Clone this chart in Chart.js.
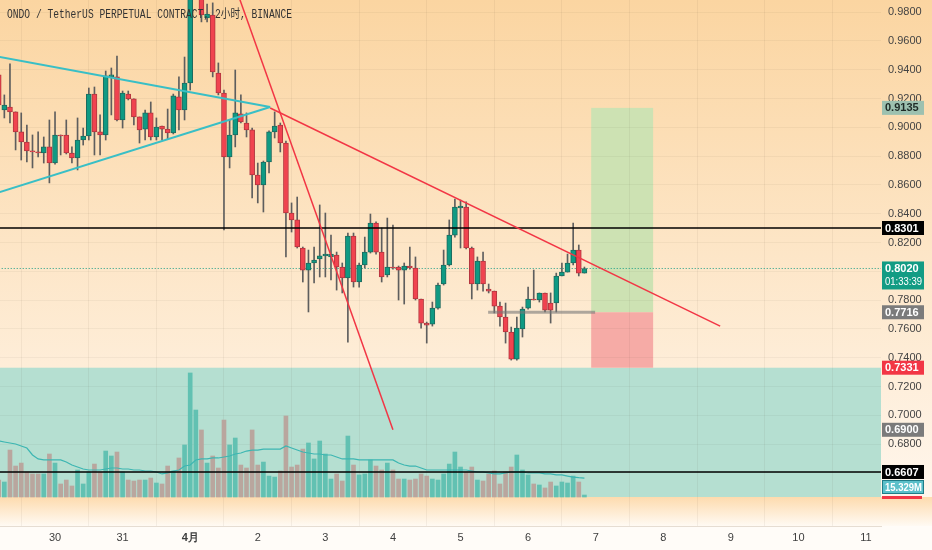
<!DOCTYPE html>
<html>
<head>
<meta charset="utf-8">
<script src="https://cdn.jsdelivr.net/npm/chart.js@4.4.1/dist/chart.umd.min.js"></script>
<style>
  html, body { margin: 0; padding: 0; background: #fffcf8; }
  canvas { display: block; }
</style>
</head>
<body>
<canvas id="ondo-chart" width="932" height="550"></canvas>
<script>
// ================== data (2h candles, index 0 = 29 Mar 22:00) ======================
const opens = [
  0.9364, 0.9120, 0.9141, 0.9107, 0.8968, 0.8898, 0.8836, 0.8829, 0.8822, 0.8864,
  0.8752, 0.8947, 0.8947, 0.8822, 0.8787, 0.8912, 0.8940, 0.9231, 0.8968, 0.8947,
  0.9350, 0.9350, 0.9051, 0.9231, 0.9197, 0.9072, 0.8988, 0.9100, 0.8933, 0.9009,
  0.8988, 0.8961, 0.9211, 0.9120, 0.9308, 0.9960, 1.0060, 0.9759, 0.9780, 0.9377,
  0.9238, 0.8794, 0.8947, 0.9093, 0.9030, 0.8982, 0.8669, 0.8600, 0.8759, 0.8968,
  0.9016, 0.8891, 0.8405, 0.8357, 0.8162, 0.8009, 0.8058, 0.8086, 0.8107, 0.8100,
  0.8113, 0.8030, 0.7954, 0.8245, 0.7926, 0.8044, 0.8134, 0.8336, 0.8134, 0.7975,
  0.8030, 0.8030, 0.8009, 0.8037, 0.8023, 0.7808, 0.7641, 0.7634, 0.7745, 0.7912,
  0.8044, 0.8252, 0.8440, 0.8447, 0.8162, 0.7912, 0.8072, 0.7877, 0.7863, 0.7759,
  0.7683, 0.7579, 0.7391, 0.7600, 0.7745, 0.7808, 0.7801, 0.7850, 0.7780, 0.7780,
  0.7968, 0.7995, 0.8058, 0.8148, 0.7988,
];
const highs = [
  0.9384, 0.9225, 0.9440, 0.9107, 0.9100, 0.9016, 0.8947, 0.8968, 0.8933, 0.9051,
  0.9107, 0.8947, 0.9051, 0.8864, 0.9065, 0.8995, 0.9273, 0.9280, 0.9086, 0.9391,
  0.9412, 0.9495, 0.9252, 0.9252, 0.9197, 0.9072, 0.9120, 0.9176, 0.9065, 0.9009,
  0.9127, 0.9231, 0.9350, 0.9488, 1.0030, 1.0200, 1.0110, 0.9856, 0.9864, 0.9447,
  0.9259, 0.9051, 0.9398, 0.9225, 0.9100, 0.8995, 0.8752, 0.8766, 0.8975, 0.9107,
  0.9030, 0.8905, 0.8475, 0.8516, 0.8169, 0.8148, 0.8169, 0.8461, 0.8405, 0.8252,
  0.8134, 0.8058, 0.8266, 0.8266, 0.8058, 0.8238, 0.8398, 0.8343, 0.8301, 0.8370,
  0.8322, 0.8037, 0.8058, 0.8169, 0.8100, 0.7808, 0.7648, 0.7787, 0.7919, 0.8148,
  0.8357, 0.8502, 0.8495, 0.8482, 0.8169, 0.8100, 0.8134, 0.7912, 0.7863, 0.7787,
  0.7780, 0.7613, 0.7683, 0.7752, 0.7891, 0.8009, 0.7850, 0.7850, 0.7850, 0.7988,
  0.8058, 0.8120, 0.8336, 0.8183, 0.8030,
];
const lows = [
  0.8961, 0.9065, 0.9030, 0.8843, 0.8773, 0.8759, 0.8718, 0.8794, 0.8752, 0.8614,
  0.8745, 0.8808, 0.8815, 0.8752, 0.8704, 0.8877, 0.8912, 0.8808, 0.8808, 0.8912,
  0.9086, 0.9044, 0.8995, 0.9190, 0.9016, 0.8891, 0.8912, 0.8912, 0.8912, 0.8912,
  0.8919, 0.8954, 0.8982, 0.9051, 0.9259, 0.9920, 0.9732, 0.9732, 0.9350, 0.9225,
  0.8287, 0.8718, 0.8864, 0.9030, 0.8933, 0.8509, 0.8475, 0.8412, 0.8683, 0.8926,
  0.8829, 0.8100, 0.8273, 0.8162, 0.7926, 0.7718, 0.7919, 0.7961, 0.7961, 0.7940,
  0.7870, 0.7850, 0.7509, 0.7891, 0.7891, 0.8023, 0.8127, 0.8120, 0.7926, 0.7961,
  0.8016, 0.7801, 0.7773, 0.8016, 0.7801, 0.7606, 0.7502, 0.7620, 0.7738, 0.7905,
  0.8037, 0.8238, 0.8162, 0.8155, 0.7808, 0.7870, 0.7863, 0.7850, 0.7711, 0.7620,
  0.7502, 0.7384, 0.7384, 0.7544, 0.7738, 0.7801, 0.7787, 0.7718, 0.7641, 0.7718,
  0.7968, 0.7995, 0.8044, 0.7968, 0.7988,
];
const closes = [
  0.9155, 0.9155, 0.9107, 0.8968, 0.8898, 0.8836, 0.8829, 0.8822, 0.8864, 0.8752,
  0.8947, 0.8940, 0.8822, 0.8787, 0.8912, 0.8940, 0.9231, 0.8968, 0.8947, 0.9357,
  0.9364, 0.9051, 0.9238, 0.9197, 0.9072, 0.8982, 0.9100, 0.8933, 0.9002, 0.8988,
  0.8961, 0.9218, 0.9120, 0.9308, 0.9970, 1.0120, 0.9780, 0.9787, 0.9384, 0.9238,
  0.8794, 0.8947, 0.9100, 0.9037, 0.8982, 0.8669, 0.8600, 0.8759, 0.8968, 0.9009,
  0.8891, 0.8405, 0.8357, 0.8169, 0.8009, 0.8058, 0.8079, 0.8107, 0.8120, 0.8120,
  0.8030, 0.7954, 0.8245, 0.7926, 0.8044, 0.8134, 0.8336, 0.8134, 0.7961, 0.8030,
  0.8023, 0.8009, 0.8037, 0.8023, 0.7808, 0.7641, 0.7627, 0.7745, 0.7905, 0.8044,
  0.8252, 0.8447, 0.8454, 0.8162, 0.7912, 0.8072, 0.7912, 0.7863, 0.7759, 0.7683,
  0.7579, 0.7391, 0.7606, 0.7738, 0.7808, 0.7801, 0.7850, 0.7731, 0.7731, 0.7968,
  0.7995, 0.8058, 0.8148, 0.7988, 0.8020,
];
// volume in millions
const volumes = [
  13.7, 12.1, 37.9, 25.0, 27.4, 20.2, 18.6, 18.6, 18.6, 34.7,
  27.4, 10.5, 13.7, 8.9, 21.8, 10.5, 20.2, 26.6, 20.2, 37.1,
  33.1, 36.3, 20.2, 13.7, 12.9, 13.7, 13.7, 15.3, 11.3, 10.5,
  25.0, 21.0, 31.5, 42.0, 100.1, 70.2, 54.1, 27.4, 33.1, 23.4,
  62.1, 42.0, 47.6, 25.8, 23.4, 54.1, 25.8, 28.2, 16.9, 16.1,
  21.0, 65.4, 24.2, 25.8, 38.7, 43.6, 30.7, 45.2, 34.7, 14.5,
  18.6, 12.9, 49.2, 25.8, 17.8, 18.6, 29.9, 25.0, 21.8, 27.4,
  21.8, 14.5, 14.5, 13.7, 14.5, 18.6, 16.9, 14.5, 13.7, 18.6,
  26.6, 36.3, 24.2, 20.2, 24.2, 13.7, 12.9, 18.6, 21.0, 10.5,
  20.2, 24.2, 33.9, 21.8, 17.8, 10.5, 9.7, 7.3, 12.1, 8.9,
  12.1, 11.3, 16.9, 12.1, 1.6,
];
const volumeMA = [
  45.2, 44.4, 43.6, 42.8, 41.2, 39.5, 33.9, 30.7, 29.9, 29.9,
  29.9, 29.9, 28.2, 25.8, 24.2, 22.6, 21.8, 21.8, 21.8, 22.6,
  23.4, 23.4, 22.6, 22.6, 21.8, 21.8, 21.0, 21.0, 20.2, 18.6,
  19.4, 21.0, 21.8, 25.0, 25.8, 29.9, 30.7, 30.7, 31.5, 31.5,
  32.3, 33.1, 34.7, 35.5, 37.1, 37.9, 37.9, 38.7, 38.7, 38.7,
  38.7, 41.2, 39.5, 37.9, 36.3, 35.5, 34.7, 34.7, 33.9, 33.9,
  32.3, 30.7, 30.7, 30.7, 29.9, 29.9, 29.9, 29.9, 29.9, 29.9,
  29.9, 27.4, 25.8, 25.0, 25.0, 23.4, 21.8, 21.8, 21.8, 21.8,
  21.8, 21.8, 21.8, 21.8, 21.0, 20.2, 20.2, 19.4, 18.6, 18.6,
  19.4, 20.2, 20.2, 20.2, 19.4, 19.4, 19.4, 18.6, 18.6, 17.8,
  17.8, 16.9, 16.1, 15.6, 15.3,
];
const dayTicks = [10, 22, 34, 46, 58, 70, 82, 94, 106, 118, 130, 142, 154];
const dayLabels = ["30", "31", "4月", "2", "3", "4", "5", "6", "7", "8", "9", "10", "11"];
const priceTicks = [0.98, 0.96, 0.94, 0.92, 0.90, 0.88, 0.86, 0.84, 0.82, 0.80, 0.78, 0.76, 0.74, 0.72, 0.70, 0.68, 0.66];

// drawings, as [candle index, price]
const upperWedge = [[0.2, 0.9489], [48.2, 0.9141]];
const lowerWedge = [[0.2, 0.8551], [48.2, 0.9141]];
const steepTrend = [[41, 1.0087], [70, 0.6900]];
const fallingTrend = [[48.2, 0.9134], [128.1, 0.7620]];
const entryMark = [[86.9, 0.7716], [105.9, 0.7716]];
const resistance = 0.8301;
const support = 0.6607;
const lastPrice = 0.8020;
const zoneTop = 0.7331;
const target = 0.9135;
const entry = 0.7716;
const stop = 0.7331;
const positionSpan = [105.2, 116.2];
const lastVolumeMA = "15.329M";
const countdown = "01:33:39";

const UP = "#0f9a83";
const DOWN = "#f0434f";

const canvas = document.getElementById("ondo-chart");
const candleIdx = opens.map((o, i) => i);
const isUp = candleIdx.map((i) => closes[i] >= opens[i]);

const seg = (pts) => pts.map((p) => ({ x: p[0], y: p[1] }));
const flat = (v, a, b) => [{ x: a, y: v }, { x: b, y: v }];

// ================== background, zone, position box ======================
const backdrop = {
  id: "backdrop",
  beforeDraw(chart) {
    const { ctx, width, height, chartArea, scales } = chart;
    const base = scales.yv.getPixelForValue(0);
    ctx.save();
    let g = ctx.createLinearGradient(0, 0, 0, base);
    g.addColorStop(0, "#fbd5a1");
    g.addColorStop(1, "#fff6ec");
    ctx.fillStyle = g;
    ctx.fillRect(0, 0, width, base);
    g = ctx.createLinearGradient(0, base, 0, chartArea.bottom);
    g.addColorStop(0, "#fddbae");
    g.addColorStop(1, "#fffaf3");
    ctx.fillStyle = g;
    ctx.fillRect(0, base, width, chartArea.bottom - base);
    ctx.fillStyle = "#fffcf8";
    ctx.fillRect(0, chartArea.bottom, width, height - chartArea.bottom);

    const y = scales.y, x = scales.x;
    const zt = y.getPixelForValue(zoneTop);
    ctx.fillStyle = "#b5dfd1";
    ctx.fillRect(chartArea.left, zt, chartArea.right - chartArea.left, base - zt);

    const x0 = x.getPixelForValue(positionSpan[0]);
    const x1 = x.getPixelForValue(positionSpan[1]);
    const yt = y.getPixelForValue(target), ye = y.getPixelForValue(entry), ys = y.getPixelForValue(stop);
    ctx.fillStyle = "#cde2b3";
    ctx.fillRect(x0, yt, x1 - x0, ye - yt);
    ctx.fillStyle = "#f6aba6";
    ctx.fillRect(x0, ye, x1 - x0, ys - ye);
    ctx.restore();
  },
};

// ================== title + price labels ======================
function priceTag(ctx, py, lines, bg, fg, border) {
  const h = lines.length > 1 ? 28 : 14;
  const top = py - 7;
  ctx.fillStyle = bg;
  ctx.fillRect(882, top, 42, h);
  if (border) {
    ctx.strokeStyle = border;
    ctx.lineWidth = 1;
    ctx.strokeRect(882.5, top + 0.5, 41, h - 1);
  }
  ctx.fillStyle = fg;
  ctx.textAlign = "left";
  ctx.textBaseline = "middle";
  lines.forEach((t, k) => {
    ctx.font = (k ? "" : "bold ") + "11px 'Liberation Sans', Arial, sans-serif";
    ctx.fillText(t, 885, py + k * 13 + 0.5, 37);
  });
}

const overlay = {
  id: "overlay",
  afterDraw(chart) {
    const { ctx, scales } = chart;
    const y = scales.y;
    ctx.save();
    ctx.fillStyle = "#333333";
    ctx.font = "12px 'Liberation Mono', 'Noto Sans CJK SC', monospace";
    ctx.textBaseline = "middle";
    ctx.textAlign = "left";
    ctx.fillText("ONDO / TetherUS PERPETUAL CONTRACT, 2小时, BINANCE", 7, 15, 285);

    priceTag(ctx, y.getPixelForValue(target), [target.toFixed(4)], "#9dc1b0", "#1e2a26");
    priceTag(ctx, y.getPixelForValue(resistance), [resistance.toFixed(4)], "#000000", "#ffffff");
    priceTag(ctx, y.getPixelForValue(lastPrice), [lastPrice.toFixed(4), countdown], "#129c84", "#ffffff");
    priceTag(ctx, y.getPixelForValue(entry), [entry.toFixed(4)], "#7b7b7b", "#ffffff");
    priceTag(ctx, y.getPixelForValue(stop), [stop.toFixed(4)], "#f23645", "#ffffff");
    priceTag(ctx, y.getPixelForValue(steepTrend[1][1]), [steepTrend[1][1].toFixed(4)], "#7b7b7b", "#ffffff");
    const sy = y.getPixelForValue(support);
    priceTag(ctx, sy, [support.toFixed(4)], "#000000", "#ffffff");
    priceTag(ctx, sy + 15, [lastVolumeMA], "#5cc0ca", "#ffffff", "#1f7c88");
    ctx.fillStyle = "#f23645";
    ctx.fillRect(882, sy + 24, 40, 3);
    ctx.restore();
  },
};

// ================== chart ======================
const lineStyle = (color, width, order, extra) =>
  Object.assign({ type: "line", borderColor: color, borderWidth: width, pointRadius: 0, order: order, yAxisID: "y" }, extra || {});

const noPad = (axis) => {
  axis.paddingTop = 0;
  axis.paddingBottom = 0;
  axis.paddingLeft = 0;
  axis.paddingRight = 0;
};

new Chart(canvas, {
  type: "bar",
  data: {
    datasets: [
      Object.assign(lineStyle("#39bfc6", 2, 1), { data: seg(upperWedge) }),
      Object.assign(lineStyle("#39bfc6", 2, 1), { data: seg(lowerWedge) }),
      Object.assign(lineStyle("#f23645", 1.5, 1), { data: seg(steepTrend) }),
      Object.assign(lineStyle("#f23645", 1.5, 1), { data: seg(fallingTrend) }),
      Object.assign(lineStyle("#000000", 1.5, 2), { data: flat(resistance, 0, 160) }),
      Object.assign(lineStyle("#000000", 1.5, 2), { data: flat(support, 0, 160) }),
      Object.assign(lineStyle("rgba(120,120,120,0.6)", 3, 2), { data: seg(entryMark) }),
      Object.assign(lineStyle("#179c86", 1, 6, { borderDash: [1, 2] }), { data: flat(lastPrice, 0, 160) }),
      {
        type: "bar",
        data: candleIdx.map((i) => ({ x: i, y: [opens[i], closes[i]] })),
        backgroundColor: candleIdx.map((i) => (isUp[i] ? UP : DOWN)),
        borderColor: candleIdx.map((i) => (isUp[i] ? "#1d6b5f" : "#b3363f")),
        borderWidth: 1,
        borderSkipped: false,
        barThickness: 5,
        minBarLength: 1,
        grouped: false,
        order: 4,
        yAxisID: "y",
      },
      {
        type: "bar",
        data: candleIdx.map((i) => ({ x: i, y: [lows[i], highs[i]] })),
        backgroundColor: "#5e5e5e",
        barThickness: 1,
        grouped: false,
        order: 5,
        yAxisID: "y",
      },
      Object.assign(lineStyle("#3cb6b2", 1.2, 9), {
        yAxisID: "yv",
        data: candleIdx.map((i) => ({ x: i, y: volumeMA[i] })),
      }),
      {
        type: "bar",
        data: candleIdx.map((i) => ({ x: i, y: volumes[i] })),
        backgroundColor: candleIdx.map((i) => (isUp[i] ? "#62c1b2" : "#b9a69e")),
        barThickness: 4,
        grouped: false,
        order: 10,
        yAxisID: "yv",
      },
    ],
  },
  options: {
    responsive: false,
    animation: false,
    layout: { padding: 0 },
    plugins: {
      legend: { display: false },
      tooltip: { enabled: false },
    },
    scales: {
      x: {
        type: "linear",
        min: 0.23,
        max: 156.66,
        offset: false,
        afterBuildTicks: (axis) => {
          axis.ticks = dayTicks.map((v) => ({ value: v }));
        },
        afterFit: (axis) => {
          axis.height = 24;
          noPad(axis);
        },
        ticks: {
          autoSkip: false,
          maxRotation: 0,
          padding: 5,
          color: "#3e3e3e",
          font: (c) => ({
            family: "'Liberation Sans', Arial, sans-serif",
            size: 11,
            weight: c.tick && c.tick.value === 34 ? "bold" : "normal",
          }),
          callback: (v) => dayLabels[dayTicks.indexOf(v)],
        },
        grid: { color: "rgba(60,50,40,0.06)", drawTicks: false },
        border: { display: true, color: "#e6ddd2" },
      },
      y: {
        type: "linear",
        position: "right",
        min: 0.6232,
        max: 0.9884,
        afterBuildTicks: (axis) => {
          axis.ticks = priceTicks.map((v) => ({ value: v }));
        },
        afterFit: (axis) => {
          axis.width = 51;
          noPad(axis);
        },
        ticks: {
          padding: 7,
          color: "#444444",
          font: { family: "'Liberation Sans', Arial, sans-serif", size: 11 },
          callback: (v) => v.toFixed(4),
        },
        grid: { color: "rgba(60,50,40,0.05)", drawTicks: false },
        border: { display: false },
      },
      yv: {
        type: "linear",
        display: false,
        min: -23.4,
        max: 401.1,
      },
    },
  },
  plugins: [backdrop, overlay],
});
</script>
</body>
</html>
